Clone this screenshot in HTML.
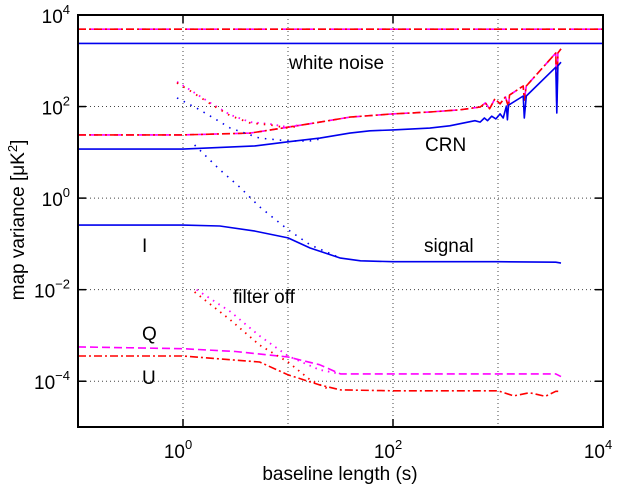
<!DOCTYPE html>
<html><head><meta charset="utf-8"><style>
body{margin:0;background:#fff;}
svg{display:block;font-family:"Liberation Sans",Arial,sans-serif;}
</style></head><body>
<svg id="chart" width="619" height="486" viewBox="0 0 619 486" xmlns="http://www.w3.org/2000/svg">
<g id="grid"></g>
<g id="series"></g>
<g id="axes"></g>
<g font-size="19" fill="#000">
<text x="289" y="69">white noise</text>
<text x="425" y="151">CRN</text>
<text x="424" y="252">signal</text>
<text x="142" y="252">I</text>
<text x="233" y="303">filter off</text>
<text x="142" y="340">Q</text>
<text x="142" y="384">U</text>
</g>
<text x="340" y="480" font-size="19" text-anchor="middle">baseline length (s)</text>
<text transform="translate(24,220) rotate(-90)" font-size="19" text-anchor="middle">map variance [μK<tspan font-size="13" dy="-7">2</tspan><tspan dy="7">]</tspan></text>
</svg>
<script>
// data stored as log10 of baseline length (s) and log10 of variance (uK^2)
const xTickExps = [0, 2, 4];
const yTickExps = [-4, -2, 0, 2, 4];
const whiteX = [-1, 4];
const whiteBlueY = [3.38, 3.38];
const whiteRedY = [3.69, 3.69];
const crnBlueX = [-1,0,0.686,1,1.305,1.59,1.78,2.0,2.35,2.54,2.78,2.83,2.87,2.90,2.94,2.98,3.02,3.05,3.08,3.09,3.10,3.24,3.25,3.27,3.55,3.56,3.57,3.60];
const crnBlueY = [1.07,1.07,1.14,1.23,1.31,1.42,1.47,1.49,1.53,1.58,1.69,1.66,1.75,1.69,1.79,1.73,1.84,1.75,2.01,1.71,2.03,2.23,1.75,2.23,2.86,1.86,2.89,2.97];
const crnRedX = [-1,0,0.64,1,1.305,1.59,2.0,2.35,2.64,2.83,2.88,2.92,2.97,3.02,3.07,3.10,3.11,3.24,3.25,3.27,3.55,3.56,3.57,3.60];
const crnRedY = [1.38,1.38,1.42,1.55,1.66,1.77,1.84,1.88,1.93,1.99,2.08,1.95,2.17,2.06,2.21,1.99,2.25,2.45,2.14,2.45,3.17,2.08,3.17,3.26];
const sigIX = [-1,0,0.35,0.686,1,1.21,1.5,1.69,2.0,3.0,3.55,3.60];
const sigIY = [-0.59,-0.59,-0.61,-0.72,-0.87,-1.09,-1.31,-1.37,-1.39,-1.39,-1.40,-1.42];
const sigQX = [-1,0,0.5,1,1.3,1.5,2.0,3.0,3.55,3.60];
const sigQY = [-3.25,-3.29,-3.35,-3.47,-3.64,-3.84,-3.84,-3.84,-3.84,-3.90];
const sigUX = [-1,0,0.73,1,1.3,1.5,2.0,2.6,3.0,3.15,3.3,3.45,3.55,3.60];
const sigUY = [-3.45,-3.45,-3.58,-3.86,-4.08,-4.19,-4.21,-4.21,-4.21,-4.32,-4.25,-4.33,-4.22,-4.22];
const offCrnRedX = [-0.057,0.07,0.26,0.45,0.64,0.83,1.0,1.11];
const offCrnRedY = [2.54,2.36,2.08,1.82,1.66,1.62,1.55,1.60];
const offCrnBlueX = [-0.057,0.16,0.45,0.73,1.0,1.21,1.30];
const offCrnBlueY = [2.19,1.93,1.53,1.31,1.25,1.25,1.29];
const offIX = [0.11,0.35,0.54,0.73,1.0,1.21,1.5];
const offIY = [1.16,0.62,0.24,-0.19,-0.69,-1.02,-1.31];
const offQX = [0.13,0.45,0.73,1.0,1.30,1.5];
const offQY = [-2.0,-2.48,-3.01,-3.45,-3.75,-3.84];
const offUX = [0.11,0.45,0.73,1.0,1.21,1.40];
const offUY = [-2.05,-2.66,-3.21,-3.58,-3.97,-4.19];

const L=78,R=603,T=15,B=427;
const xMin=-1,xMax=4,yMin=-5,yMax=4;
function sx(e){return L+(e-xMin)/(xMax-xMin)*(R-L);}
function sy(e){return B-(e-yMin)/(yMax-yMin)*(B-T);}
const NS='http://www.w3.org/2000/svg';
function mk(tag,attrs,parent){const el=document.createElementNS(NS,tag);for(const k in attrs)el.setAttribute(k,attrs[k]);parent.appendChild(el);return el;}
const grid=document.getElementById('grid'),axes=document.getElementById('axes'),series=document.getElementById('series');
for(let e=xMin+1;e<xMax;e++){
  const l=mk('line',{x1:sx(e),x2:sx(e),y1:T,y2:B,stroke:'#444','stroke-width':1,'stroke-dasharray':'1,3'},grid);
  
  
}
for(let e=yMin+1;e<yMax;e++){
  if(e%2!==0)continue;
  const l=mk('line',{x1:L,x2:R,y1:sy(e),y2:sy(e),stroke:'#444','stroke-width':1,'stroke-dasharray':'1,3'},grid);
  
  
}
function line(xs,ys,color,dash,w,name){
  const pts=xs.map((x,i)=>sx(x).toFixed(1)+','+sy(ys[i]).toFixed(1)).join(' ');
  const p=mk('polyline',{points:pts,fill:'none',stroke:color,'stroke-width':w,'stroke-dasharray':dash,'stroke-linejoin':'round'},series);
  
  
}
line(whiteX,whiteRedY,'#ff00ff','8,4',1.6,'white-noise-q');
line(whiteX,whiteRedY,'#ff0000','8,3,2,3',1.6,'white-noise-u');
line(whiteX,whiteBlueY,'#0000ee','none',1.6,'white-noise-i');
line(crnRedX,crnRedY,'#ff00ff','8,4',1.6,'crn-q');
line(crnRedX,crnRedY,'#ff0000','8,3,2,3',1.6,'crn-u');
line(crnBlueX,crnBlueY,'#0000ee','none',1.6,'crn-i');
line(sigIX,sigIY,'#0000ee','none',1.6,'signal-i');
line(sigQX,sigQY,'#ff00ff','8,4',1.6,'signal-q');
line(sigUX,sigUY,'#ff0000','8,3,2,3',1.6,'signal-u');
line(offCrnRedX,offCrnRedY,'#ff00ff','1.5,5',1.8,'filter-off-crn-q');
line(offCrnRedX,offCrnRedY.map(v=>v-0.02),'#ff0000','1.5,6',1.8,'filter-off-crn-u');
line(offCrnBlueX,offCrnBlueY,'#0000ee','1.5,6',1.6,'filter-off-crn-i');
line(offIX,offIY,'#0000ee','1.5,6',1.6,'filter-off-signal-i');
line(offQX,offQY,'#ff00ff','1.5,5',1.8,'filter-off-signal-q');
line(offUX,offUY,'#ff0000','1.5,5',1.8,'filter-off-signal-u');
const box=mk('rect',{x:L,y:T,width:R-L,height:B-T,fill:'none',stroke:'#000','stroke-width':2},axes);


xTickExps.forEach(e=>{
  mk('line',{x1:sx(e),x2:sx(e),y1:B,y2:B-8,stroke:'#000','stroke-width':1.5},axes);
  mk('line',{x1:sx(e),x2:sx(e),y1:T,y2:T+8,stroke:'#000','stroke-width':1.5},axes);
  const t=mk('text',{x:sx(e)-5,y:B+31,'font-size':19,'text-anchor':'middle'},axes);
  
  
  t.innerHTML='10<tspan font-size="13" dy="-9">'+e+'</tspan>';
});
yTickExps.forEach(e=>{
  mk('line',{x1:L,x2:L+8,y1:sy(e),y2:sy(e),stroke:'#000','stroke-width':1.5},axes);
  mk('line',{x1:R,x2:R-8,y1:sy(e),y2:sy(e),stroke:'#000','stroke-width':1.5},axes);
  const t=mk('text',{x:L-8,y:sy(e)+8,'font-size':19,'text-anchor':'end'},axes);
  
  
  t.innerHTML='10<tspan font-size="13" dy="-9">'+(e<0?'\u2212'+(-e):e)+'</tspan>';
});
</script>
</body></html>
